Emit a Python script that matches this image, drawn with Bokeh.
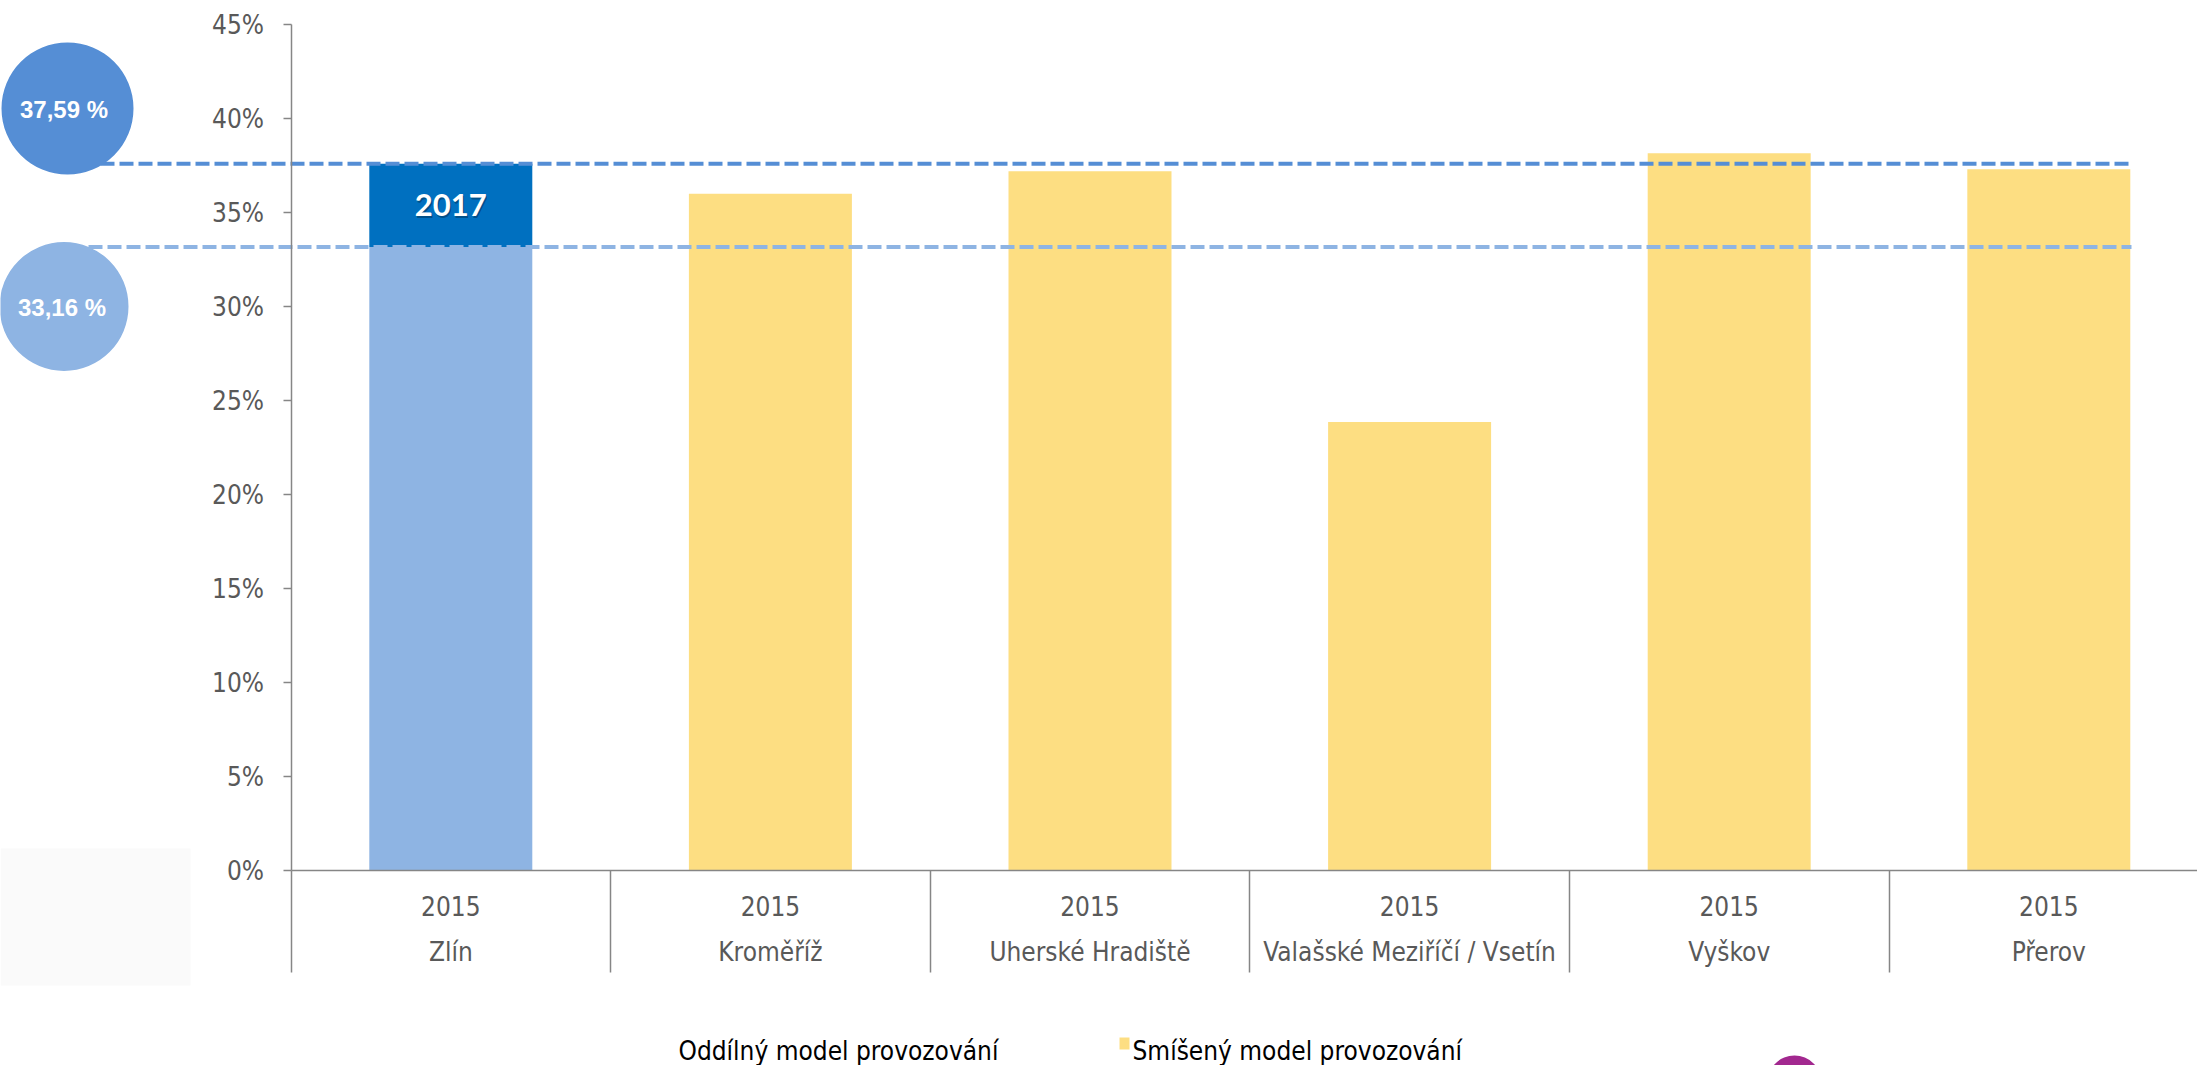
from bokeh.plotting import figure
from bokeh.models import Range1d, LinearAxis, FixedTicker
from bokeh.core.properties import value
from bokeh.embed import file_html
from bokeh.resources import INLINE

# --- data -------------------------------------------------------------
cities = ["Zlín", "Kroměříž", "Uherské Hradiště",
          "Valašské Meziříčí / Vsetín", "Vyškov", "Přerov"]
years = ["2015", "2015", "2015", "2015", "2015", "2015"]

# Oddílný model provozování (Zlín): 2015 level and 2017 level
oddilny_city = "Zlín"
oddilny_2015 = 33.16
oddilny_2017 = 37.59
oddilny_top_label = "2017"

# Smíšený model provozování
smiseny_cities = ["Kroměříž", "Uherské Hradiště",
                  "Valašské Meziříčí / Vsetín", "Vyškov", "Přerov"]
smiseny_values = [36.0, 37.2, 23.85, 38.15, 37.3]

y_ticks = [0, 5, 10, 15, 20, 25, 30, 35, 40, 45]
y_tick_labels = ["0%", "5%", "10%", "15%", "20%", "25%",
                 "30%", "35%", "40%", "45%"]

legend_labels = ["Oddílný model provozování", "Smíšený model provozování"]

# --- page geometry ----------------------------------------------------
W, H = 2197, 1065
AXIS_PX = 290.5      # horizontal position of the value axis
ZERO_PY = 870.0      # vertical position of 0 %
CAT_PX = 319.6       # width of one category slot
PCT_PX = 18.8        # pixels per percentage point


def X(px):
    return (px - AXIS_PX) / CAT_PX


def Y(py):
    return (ZERO_PY - py) / PCT_PX


BLUE_DARK = "#0070C0"
BLUE_LIGHT = "#8EB4E3"
BLUE_MID = "#558ED5"
YELLOW = "#FDDE82"
AXIS_GREY = "#868686"
LABEL_GREY = "#595959"
NARROW = "Liberation Sans Narrow, DejaVu Sans Condensed, Liberation Sans"

p = figure(width=W, height=H,
           x_range=Range1d(X(0), X(W)), y_range=Range1d(Y(H), Y(0)),
           x_axis_location=None, y_axis_location=None,
           output_backend="svg", toolbar_location=None,
           min_border=0, outline_line_color=None,
           background_fill_color="white", border_fill_color="white")
p.grid.visible = False

centers = [i + 0.5 for i in range(len(cities))]
center_of = dict(zip(cities, centers))
BAR_W = 0.51

# faint patch in the lower-left corner
p.quad(left=[X(0)], right=[X(190)], bottom=[Y(985)], top=[Y(848)],
       fill_color="#fafafa", line_color=None)

# bars
zx = center_of[oddilny_city]
p.vbar(x=[zx], bottom=[0], top=[oddilny_2015], width=BAR_W,
       fill_color=BLUE_LIGHT, line_color=None)
p.vbar(x=[zx], bottom=[oddilny_2015], top=[oddilny_2017], width=BAR_W,
       fill_color=BLUE_DARK, line_color=None)
p.vbar(x=[center_of[c] for c in smiseny_cities], bottom=0, top=smiseny_values,
       width=BAR_W, fill_color=YELLOW, line_color=None)

# label inside the 2017 increment (with a soft shadow)
mid = (oddilny_2015 + oddilny_2017) / 2
p.text(x=[zx + 0.004], y=[mid - 0.1], text=[oddilny_top_label],
       text_font=value("Lato"), text_font_style="bold", text_font_size="31px",
       text_color="#000000", text_alpha=0.3,
       text_align="center", text_baseline="middle")
p.text(x=[zx], y=[mid], text=[oddilny_top_label],
       text_font=value("Lato"), text_font_style="bold", text_font_size="31px",
       text_color="white", text_align="center", text_baseline="middle")

# reference lines
p.line(x=[X(100), X(2129)], y=[oddilny_2017, oddilny_2017],
       line_color=BLUE_MID, line_width=4, line_dash="14 5")
p.line(x=[X(88), X(2131)], y=[oddilny_2015, oddilny_2015],
       line_color=BLUE_LIGHT, line_width=4, line_dash="14 5")

# value badges
def pct_text(v):
    return f"{v:.2f}".replace(".", ",") + " %"

p.scatter(x=[X(67)], y=[Y(108)], size=132, marker="circle",
          fill_color=BLUE_MID, line_color=None)
p.scatter(x=[X(63.5)], y=[Y(306)], size=129, marker="circle",
          fill_color=BLUE_LIGHT, line_color=None)
p.text(x=[X(63.5), X(61.5)], y=[Y(108.5), Y(306.5)],
       text=[pct_text(oddilny_2017), pct_text(oddilny_2015)],
       text_font=value("Liberation Sans"), text_font_style="bold",
       text_font_size="24px", text_color="white",
       text_align="center", text_baseline="middle")

# value axis
yax = LinearAxis(fixed_location=0, bounds=(0, 45),
                 ticker=FixedTicker(ticks=y_ticks),
                 major_label_overrides=dict(zip(y_ticks, y_tick_labels)),
                 axis_line_color=AXIS_GREY, axis_line_width=1.5,
                 major_tick_line_color=AXIS_GREY, major_tick_line_width=1.5,
                 major_tick_out=8, major_tick_in=0,
                 minor_tick_out=0, minor_tick_in=0,
                 major_label_text_font=NARROW,
                 major_label_text_font_size="26px",
                 major_label_text_color=LABEL_GREY,
                 major_label_standoff=19)
p.add_layout(yax, "left")

# category axis line with long separators between categories
bounds_ticks = list(range(len(cities) + 1))
xax = LinearAxis(fixed_location=0, bounds=(0, X(W)),
                 ticker=FixedTicker(ticks=bounds_ticks),
                 major_label_overrides={t: "" for t in bounds_ticks},
                 axis_line_color=AXIS_GREY, axis_line_width=1.5,
                 major_tick_line_color=AXIS_GREY, major_tick_line_width=1.5,
                 major_tick_out=102, major_tick_in=0,
                 minor_tick_out=0, minor_tick_in=0,
                 major_label_text_font_size="1px")
p.add_layout(xax, "below")

# two rows of category labels: year, then city
for labels, standoff in ((years, 25), (cities, 66)):
    ax = LinearAxis(fixed_location=0,
                    ticker=FixedTicker(ticks=centers),
                    major_label_overrides=dict(zip(centers, labels)),
                    axis_line_color=None, major_tick_line_color=None,
                    major_tick_out=0, major_tick_in=0,
                    minor_tick_out=0, minor_tick_in=0,
                    major_label_text_font=NARROW,
                    major_label_text_font_size="26px",
                    major_label_text_color=LABEL_GREY,
                    major_label_standoff=standoff)
    p.add_layout(ax, "below")

# legend
p.quad(left=[X(1119)], right=[X(1129)], bottom=[Y(1049)], top=[Y(1037)],
       fill_color=YELLOW, line_color=None)
p.text(x=[X(678), X(1132)], y=[Y(1050), Y(1050)], text=legend_labels,
       text_font=value(NARROW), text_font_size="26px", text_color="black",
       text_align="left", text_baseline="alphabetic")

# logo fragment at the bottom edge
p.scatter(x=[X(1794)], y=[Y(1082)], size=54, marker="circle",
          fill_color="#a2288f", line_color=None)

open("out.html", "w").write(file_html(p, INLINE))
